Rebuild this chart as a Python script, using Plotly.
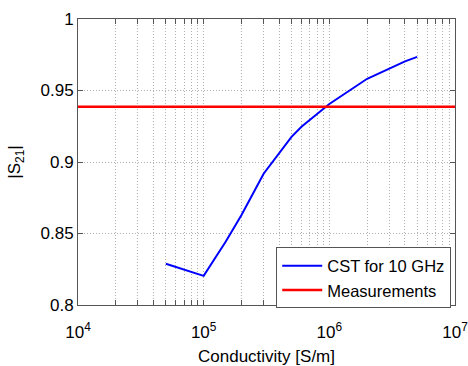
import plotly.graph_objects as go

conductivity = [5e4, 1e5, 1.5e5, 2e5, 3e5, 4e5, 5e5, 6e5, 7e5, 8e5, 1e6, 2e6, 3e6, 4e6, 5e6]
s21_cst = [0.8288, 0.8204, 0.8444, 0.8629, 0.8918, 0.9066, 0.9176, 0.9247, 0.9296, 0.9338, 0.9406,
           0.9582, 0.9653, 0.9704, 0.9735]
meas_x = [1e4, 1e7]
meas_y = [0.9387, 0.9387]

x_major = [1e4, 1e5, 1e6, 1e7]
x_major_text = ["10<sup>4</sup>", "10<sup>5</sup>", "10<sup>6</sup>", "10<sup>7</sup>"]
x_minor_factors = [2, 3, 4, 5, 6, 7, 8, 9]
y_tickvals = [0.8, 0.85, 0.9, 0.95, 1.0]
y_ticktext = ["0.8", "0.85", "0.9", "0.95", "1"]

# all tick positions (majors labelled, minors unlabelled) for MATLAB-like log grid
x_tickvals, x_ticktext = [], []
for i, m in enumerate(x_major):
    x_tickvals.append(m)
    x_ticktext.append(x_major_text[i])
    if i < len(x_major) - 1:
        for f in x_minor_factors:
            x_tickvals.append(m * f)
            x_ticktext.append("")

font = "Liberation Sans, Arial, sans-serif"
fs = 17

fig = go.Figure()
fig.add_trace(go.Scatter(x=conductivity, y=s21_cst, mode="lines",
                         line=dict(color="#0000ff", width=2), name="CST for 10 GHz"))
fig.add_trace(go.Scatter(x=meas_x, y=meas_y, mode="lines",
                         line=dict(color="#ff0000", width=2.5), name="Measurements"))

axis_common = dict(showline=True, linecolor="#555555", linewidth=1, mirror="allticks",
                   ticks="inside", ticklen=5, tickcolor="#555555",
                   showgrid=True, gridcolor="#b0b0b0", griddash="1px,2px", gridwidth=1,
                   zeroline=False, automargin=False, ticklabeloverflow="allow",
                   tickfont=dict(family=font, size=fs, color="#000"))

fig.update_xaxes(type="log", range=[4, 7], tickvals=x_tickvals, ticktext=x_ticktext,
                 ticklabelstandoff=12,
                 title=dict(text="Conductivity [S/m]", font=dict(family=font, size=fs, color="#000")),
                 **axis_common)
fig.update_yaxes(range=[0.8, 1.0], tickvals=y_tickvals, ticktext=y_ticktext,
                 title=dict(text="|S<sub>21</sub>|", font=dict(family=font, size=fs, color="#000")),
                 **axis_common)

fig.update_layout(
    width=468, height=366,
    margin=dict(l=78, r=13, t=19, b=61),
    paper_bgcolor="white", plot_bgcolor="white",
    showlegend=True,
    legend=dict(x=0.99, y=-0.012, xanchor="right", yanchor="bottom",
                bgcolor="white", bordercolor="#555555", borderwidth=1,
                font=dict(family=font, size=16.5, color="#000"),
                itemwidth=40, tracegroupgap=0),
)

fig.write_html("out.html", config={"displayModeBar": False},
               post_script="document.body.style.margin='0';document.body.style.overflow='hidden';")
